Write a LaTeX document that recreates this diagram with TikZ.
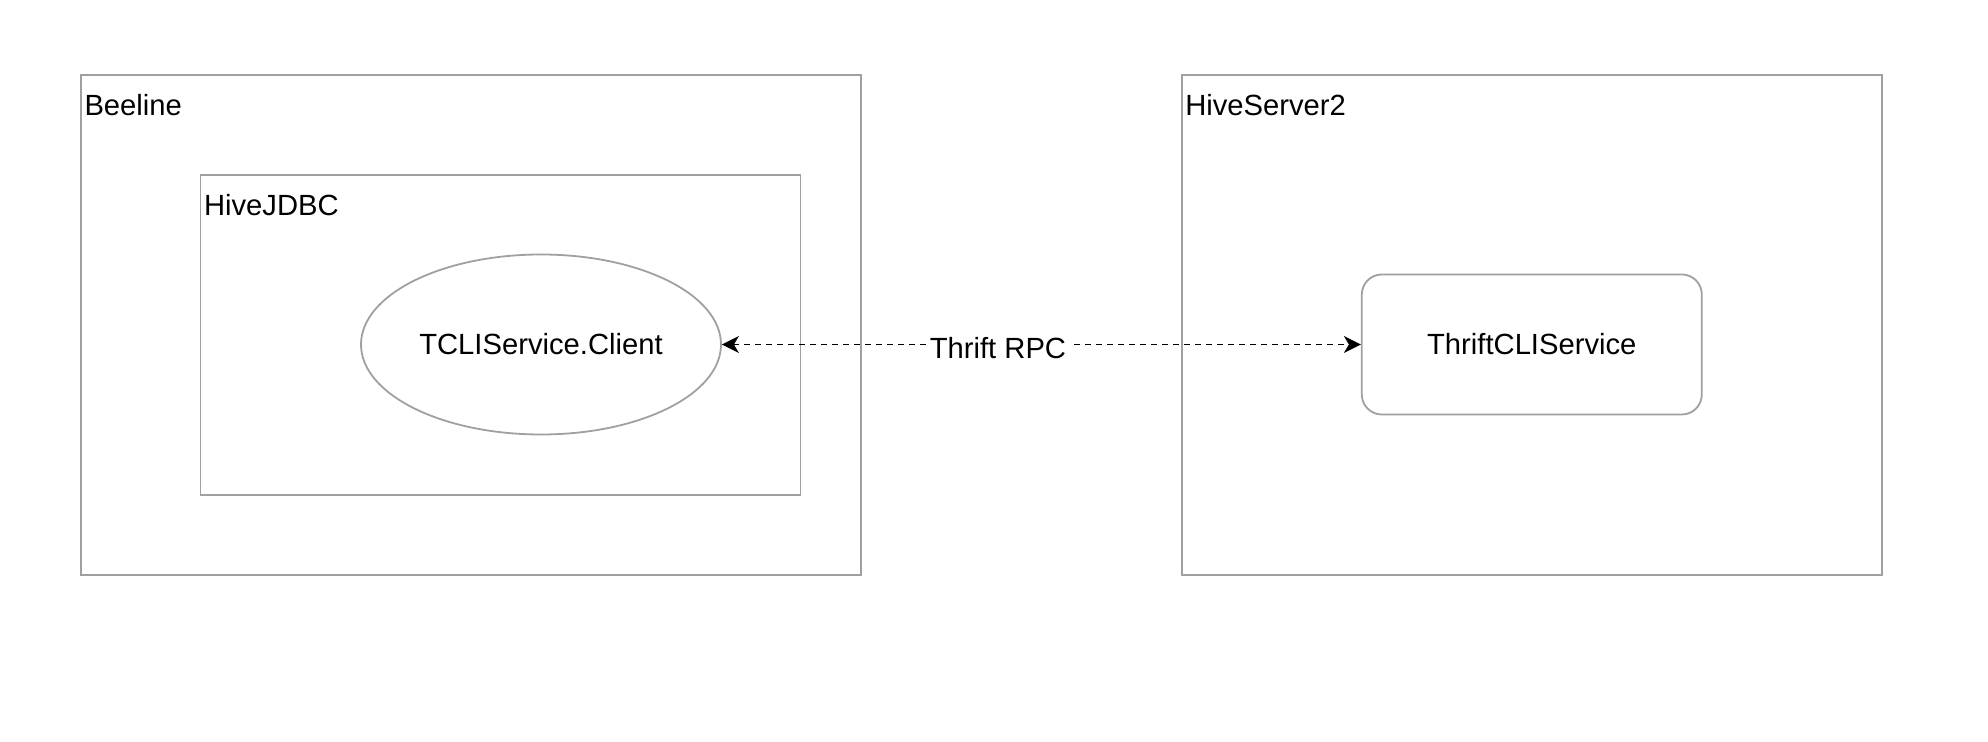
\documentclass[tikz,border=0pt]{standalone}
\usepackage{fontspec}
\setmainfont{Liberation Sans}
\usetikzlibrary{
    positioning,
    arrows.meta,
    shapes.geometric
}
\definecolor{boxgray}{HTML}{A0A0A0}

\begin{document}
\begin{tikzpicture}[
    x=0.5pt, y=-0.5pt,
    font=\fontsize{14.6pt}{17pt}\selectfont,
    % Estilos de Nodos
    container/.style={rectangle, draw=boxgray, line width=0.9pt, inner sep=0pt},
    client/.style={ellipse, draw=boxgray, line width=0.9pt, inner sep=0pt, minimum width=180pt, minimum height=90pt},
    service/.style={rectangle, rounded corners=10pt, draw=boxgray, line width=0.9pt, minimum width=170pt, minimum height=70pt},
    tag/.style={anchor=base west, inner sep=0pt},
    % Estilos de Flechas
    rpc_arrow/.style={{Stealth[length=8.5pt, width=8.5pt, inset=2.5pt]}-{Stealth[length=8.5pt, width=8.5pt, inset=2.5pt]},
        line width=0.8pt, draw=black, dash pattern=on 3pt off 2.5pt}
]

\useasboundingbox (0,0) rectangle (1988,742);

% === Beeline ===
\node[container, minimum width=390pt, minimum height=250pt] (beeline) at (471,325) {};
\node[tag] (beeline_lbl) at ([shift={(4,41)}]beeline.north west) {Beeline};

\node[container, minimum width=300pt, minimum height=160pt] (jdbc) at (500.5,335) {};
\node[tag] (jdbc_lbl) at ([shift={(4,41)}]jdbc.north west) {HiveJDBC};

\node[client] (client) at (541,344.5) {TCLIService.Client};

% === HiveServer2 ===
\node[container, minimum width=350pt, minimum height=250pt] (hs2) [right=159.5pt of beeline] {};
\node[tag] (hs2_lbl) at ([shift={(4,41)}]hs2.north west) {HiveServer2};

\node[service] (thrift) at ([yshift=-9.75pt]hs2.center) {ThriftCLIService};

% --- Flecha RPC ---
\draw[rpc_arrow] (client) -- (thrift)
    node[pos=0.432, fill=white, inner xsep=1.25pt, inner ysep=2pt, yshift=-2pt] (rpc_lbl) {Thrift RPC};

\end{tikzpicture}
\end{document}
